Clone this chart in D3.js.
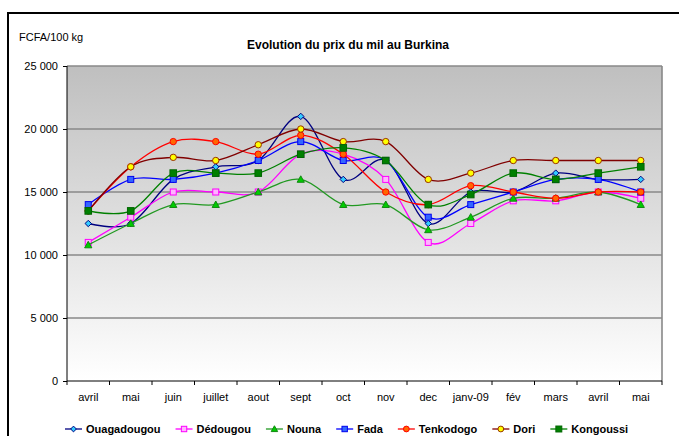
<!DOCTYPE html>
<html>
<head>
<meta charset="utf-8">
<script src="https://cdn.jsdelivr.net/npm/d3@7"></script>
<style>
  body { margin: 0; background: #fff; }
  svg { display: block; font-family: "Liberation Sans", Arial, sans-serif; }
</style>
</head>
<body>
<svg id="chart" width="679" height="436"></svg>
<script>
// months (avril 2008 -> mai 2009)
const months = ['avril', 'mai', 'juin', 'juillet', 'aout', 'sept', 'oct', 'nov', 'dec', 'janv-09', 'fév', 'mars', 'avril', 'mai'];
const yTicks = [0, 5000, 10000, 15000, 20000, 25000];

const ouagadougou = [12500, 12500, 16000, 17000, 17500, 21000, 16000, 17500, 12500, 15000, 15000, 16500, 16000, 16000];
const dedougou    = [11000, 13000, 15000, 15000, 15000, 18000, 18000, 16000, 11000, 12500, 14300, 14300, 15000, 14500];
const nouna       = [10800, 12500, 14000, 14000, 15000, 16000, 14000, 14000, 12000, 13000, 14500, 14500, 15000, 14000];
const fada        = [14000, 16000, 16000, 16500, 17500, 19000, 17500, 17500, 13000, 14000, 15000, 16000, 16000, 15000];
const tenkodogo   = [13500, 17000, 19000, 19000, 18000, 19500, 18000, 15000, 14000, 15500, 15000, 14500, 15000, 15000];
const dori        = [13500, 17000, 17750, 17500, 18750, 20000, 19000, 19000, 16000, 16500, 17500, 17500, 17500, 17500];
const kongoussi   = [13500, 13500, 16500, 16500, 16500, 18000, 18500, 17500, 14000, 14800, 16500, 16000, 16500, 17000];

const series = [
  { name: 'Ouagadougou', values: ouagadougou, line: '#000080', fill: '#33ccff', stroke: '#000080', shape: 'diamond' },
  { name: 'Dédougou', values: dedougou, line: '#ff00ff', fill: '#ffb3ff', stroke: '#ff00ff', shape: 'square' },
  { name: 'Nouna', values: nouna, line: '#229922', fill: '#00cc00', stroke: '#118811', shape: 'triangle' },
  { name: 'Fada', values: fada, line: '#0000ff', fill: '#3366ff', stroke: '#0000ee', shape: 'square' },
  { name: 'Tenkodogo', values: tenkodogo, line: '#ff0000', fill: '#ff6600', stroke: '#ff0000', shape: 'circle' },
  { name: 'Dori', values: dori, line: '#800000', fill: '#ffff00', stroke: '#993300', shape: 'circle' },
  { name: 'Kongoussi', values: kongoussi, line: '#008000', fill: '#008000', stroke: '#006600', shape: 'bigsquare' }
];

const svg = d3.select('#chart');
const plot = { left: 67, right: 662, top: 66, bottom: 381 };

// outer frame (right / bottom edges are cut by the picture)
svg.append('rect')
  .attr('x', 8).attr('y', 13)
  .attr('width', 720).attr('height', 460)
  .attr('fill', 'none')
  .attr('stroke', '#000')
  .attr('stroke-width', 2);

const x = d3.scaleBand()
  .domain(d3.range(months.length))
  .range([plot.left, plot.right])
  .paddingInner(0).paddingOuter(0);

const y = d3.scaleLinear()
  .domain([0, 25000])
  .range([plot.bottom, plot.top]);

// background gradient
const defs = svg.append('defs');
const grad = defs.append('linearGradient')
  .attr('id', 'bg')
  .attr('x1', 0).attr('y1', 0).attr('x2', 0).attr('y2', 1);
grad.append('stop').attr('offset', '0%').attr('stop-color', '#bfbfbf');
grad.append('stop').attr('offset', '100%').attr('stop-color', '#ffffff');

svg.append('rect')
  .attr('x', plot.left).attr('y', plot.top)
  .attr('width', plot.right - plot.left)
  .attr('height', plot.bottom - plot.top)
  .attr('fill', 'url(#bg)');

// grid lines (top one doubles as the plot border)
svg.append('g')
  .selectAll('line')
  .data(yTicks.filter(d => d > 0))
  .enter().append('line')
  .attr('x1', plot.left).attr('x2', plot.right)
  .attr('y1', d => y(d)).attr('y2', d => y(d))
  .attr('stroke', '#888')
  .attr('stroke-width', 1.6);

// right border of plot area
svg.append('line')
  .attr('x1', plot.right).attr('x2', plot.right)
  .attr('y1', plot.top).attr('y2', plot.bottom)
  .attr('stroke', '#888')
  .attr('stroke-width', 1.6);

// y axis
const yAxis = svg.append('g')
  .attr('transform', `translate(${plot.left},0)`)
  .call(d3.axisLeft(y)
    .tickValues(yTicks)
    .tickSize(4)
    .tickPadding(5)
    .tickFormat(d => d3.format(',')(d).replace(',', ' ')));
yAxis.select('.domain').attr('stroke', '#000').attr('d', `M0,${plot.top}V${plot.bottom + 4}`);
yAxis.selectAll('.tick line').attr('stroke', '#000');
yAxis.selectAll('.tick text').attr('font-size', 11).attr('fill', '#000')
  .attr('font-family', '"Liberation Sans", Arial, sans-serif');

// x axis labels
const xAxis = svg.append('g')
  .attr('transform', `translate(0,${plot.bottom})`)
  .call(d3.axisBottom(x).tickSize(0).tickFormat(i => months[i]));
xAxis.select('.domain').remove();
xAxis.selectAll('.tick text')
  .attr('y', 12)
  .attr('font-size', 11).attr('fill', '#000')
  .attr('font-family', '"Liberation Sans", Arial, sans-serif');

svg.append('line')
  .attr('x1', plot.left).attr('x2', plot.right)
  .attr('y1', plot.bottom).attr('y2', plot.bottom)
  .attr('stroke', '#000');

// boundary ticks between categories
const edges = d3.range(months.length).map(i => x(i)).concat([plot.right]);
svg.append('g')
  .selectAll('line')
  .data(edges.slice(1))
  .enter().append('line')
  .attr('x1', d => d).attr('x2', d => d)
  .attr('y1', plot.bottom).attr('y2', plot.bottom + 4)
  .attr('stroke', '#000');

// titles
svg.append('text')
  .attr('x', 348).attr('y', 49)
  .attr('text-anchor', 'middle')
  .attr('font-size', 12).attr('font-weight', 'bold')
  .text('Evolution du prix du mil au Burkina');

svg.append('text')
  .attr('x', 19).attr('y', 41)
  .attr('font-size', 11)
  .text('FCFA/100 kg');

// markers
function drawMarker(g, s, cx, cy, scale) {
  const k = scale || 1;
  if (s.shape === 'diamond') {
    const r = 3.2 * k;
    g.append('path')
      .attr('d', `M${cx},${cy - r}L${cx + r},${cy}L${cx},${cy + r}L${cx - r},${cy}Z`)
      .attr('fill', s.fill).attr('stroke', s.stroke).attr('stroke-width', 1);
  } else if (s.shape === 'square' || s.shape === 'bigsquare') {
    const h = (s.shape === 'bigsquare' ? 3.3 : 3) * k;
    g.append('rect')
      .attr('x', cx - h).attr('y', cy - h)
      .attr('width', 2 * h).attr('height', 2 * h)
      .attr('fill', s.fill).attr('stroke', s.stroke).attr('stroke-width', 1);
  } else if (s.shape === 'triangle') {
    const r = 3.6 * k;
    g.append('path')
      .attr('d', `M${cx},${cy - r}L${cx + r},${cy + r * 0.8}L${cx - r},${cy + r * 0.8}Z`)
      .attr('fill', s.fill).attr('stroke', s.stroke).attr('stroke-width', 1);
  } else {
    g.append('circle')
      .attr('cx', cx).attr('cy', cy).attr('r', 3.2 * k)
      .attr('fill', s.fill).attr('stroke', s.stroke).attr('stroke-width', 1);
  }
}

const line = d3.line()
  .x((d, i) => x(i) + x.bandwidth() / 2)
  .y(d => y(d))
  .curve(d3.curveCardinal.tension(0));

series.forEach(s => {
  const g = svg.append('g');
  g.append('path')
    .attr('d', line(s.values))
    .attr('fill', 'none')
    .attr('stroke', s.line)
    .attr('stroke-width', 1.3);
  s.values.forEach((v, i) => drawMarker(g, s, x(i) + x.bandwidth() / 2, y(v)));
});

// legend
const legend = svg.append('g');
let lx = 65;
const ly = 429;
series.forEach(s => {
  const g = legend.append('g');
  g.append('line')
    .attr('x1', lx).attr('x2', lx + 17)
    .attr('y1', ly).attr('y2', ly)
    .attr('stroke', s.line).attr('stroke-width', 1.3);
  drawMarker(g, s, lx + 8.5, ly, 0.9);
  const t = g.append('text')
    .attr('x', lx + 21).attr('y', ly + 4)
    .attr('font-size', 11).attr('font-weight', 'bold')
    .text(s.name);
  lx += 21 + t.node().getComputedTextLength() + 15;
});
</script>
</body>
</html>
